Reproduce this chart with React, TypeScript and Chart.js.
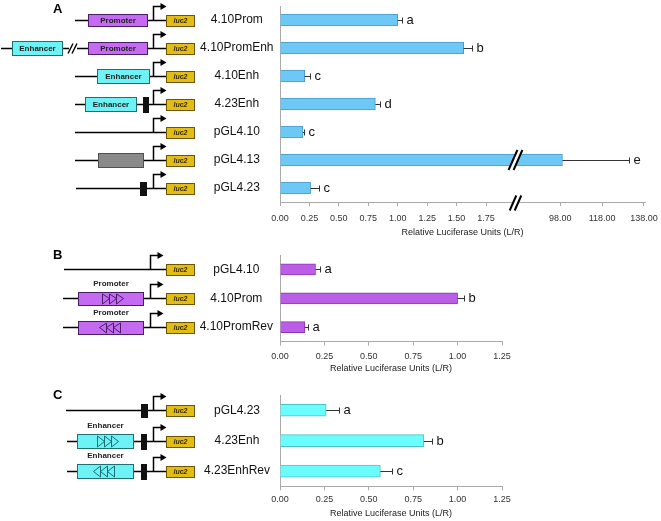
import React, { useEffect, useRef } from 'react';
import { Chart, registerables } from 'chart.js';

Chart.register(...registerables);

const FONT = "'Liberation Sans', Arial, Helvetica, sans-serif";

// ---------- Panel A data ----------
const categoriesA = ['4.10Prom', '4.10PromEnh', '4.10Enh', '4.23Enh', 'pGL4.10', 'pGL4.13', 'pGL4.23'];
const valuesA = [1.0, 1.56, 0.21, 0.81, 0.195, 99, 0.26];
const errorsA = [0.035, 0.07, 0.045, 0.04, 0.012, 32, 0.07];
const lettersA = ['a', 'b', 'c', 'd', 'c', 'e', 'c'];
const tickValuesA = [0, 0.25, 0.5, 0.75, 1, 1.25, 1.5, 1.75, 98, 118, 138];
const tickLabelsA = ['0.00', '0.25', '0.50', '0.75', '1.00', '1.25', '1.50', '1.75', '98.00', '118.00', '138.00'];

// ---------- Panel B data ----------
const categoriesB = ['pGL4.10', '4.10Prom', '4.10PromRev'];
const valuesB = [0.2, 1.0, 0.14];
const errorsB = [0.025, 0.035, 0.02];
const lettersB = ['a', 'b', 'a'];

// ---------- Panel C data ----------
const categoriesC = ['pGL4.23', '4.23Enh', '4.23EnhRev'];
const valuesC = [0.26, 0.81, 0.565];
const errorsC = [0.07, 0.045, 0.065];
const lettersC = ['a', 'b', 'c'];

const tickValuesBC = [0, 0.25, 0.5, 0.75, 1, 1.25];
const tickLabelsBC = ['0.00', '0.25', '0.50', '0.75', '1.00', '1.25'];
const axisTitle = 'Relative Luciferase Units (L/R)';

// ---------- broken axis (panel A) ----------
const BREAK_AT = 2;
const UPPER_FROM = 98;
const UPPER_POS = 2.381;
const UPPER_UNIT = 0.355 / 20;
const toAxisA = (v: number) => (v <= BREAK_AT ? v : UPPER_POS + (v - UPPER_FROM) * UPPER_UNIT);
const identity = (v: number) => v;

// ---------- schematic diagrams ----------
type Box = {
  kind: 'promoter' | 'enhancer' | 'gray' | 'block';
  x1: number; x2: number; h: number;
  text?: string; above?: string; tri?: 'r' | 'l'; triX?: number;
};
type Row = { start: number; boxes: Box[]; slash?: number; arrowX: number };

const COL: Record<string, [string, string]> = {
  promoter: ['#C46BF2', '#4A1E66'],
  enhancer: ['#6DF2F5', '#1E6E72'],
  gray: ['#8A8A8A', '#505050'],
  block: ['#111111', '#111111'],
  luc: ['#E2BD13', '#6E5400'],
};

const diagramA: Row[] = [
  { start: 75, boxes: [{ kind: 'promoter', x1: 88, x2: 148, h: 13, text: 'Promoter' }], arrowX: 153 },
  { start: 1, slash: 68, boxes: [{ kind: 'enhancer', x1: 12, x2: 63, h: 15, text: 'Enhancer' }, { kind: 'promoter', x1: 88, x2: 148, h: 13, text: 'Promoter' }], arrowX: 153 },
  { start: 75, boxes: [{ kind: 'enhancer', x1: 97, x2: 150, h: 15, text: 'Enhancer' }], arrowX: 153 },
  { start: 75, boxes: [{ kind: 'enhancer', x1: 85, x2: 137, h: 15, text: 'Enhancer' }, { kind: 'block', x1: 143, x2: 149, h: 16 }], arrowX: 153 },
  { start: 75, boxes: [], arrowX: 153 },
  { start: 75, boxes: [{ kind: 'gray', x1: 98, x2: 144, h: 15 }], arrowX: 153 },
  { start: 76, boxes: [{ kind: 'block', x1: 140, x2: 147, h: 14 }], arrowX: 153 },
];
const diagramB: Row[] = [
  { start: 64, boxes: [], arrowX: 150 },
  { start: 63, boxes: [{ kind: 'promoter', x1: 78, x2: 144, h: 14, above: 'Promoter', tri: 'r', triX: 102 }], arrowX: 150 },
  { start: 63, boxes: [{ kind: 'promoter', x1: 78, x2: 144, h: 14, above: 'Promoter', tri: 'l', triX: 99 }], arrowX: 150 },
];
const diagramC: Row[] = [
  { start: 66, boxes: [{ kind: 'block', x1: 141, x2: 148, h: 14 }], arrowX: 153 },
  { start: 67, boxes: [{ kind: 'enhancer', x1: 77, x2: 134, h: 15, above: 'Enhancer', tri: 'r', triX: 97 }, { kind: 'block', x1: 141, x2: 147, h: 16 }], arrowX: 153 },
  { start: 67, boxes: [{ kind: 'enhancer', x1: 77, x2: 134, h: 15, above: 'Enhancer', tri: 'l', triX: 93 }, { kind: 'block', x1: 141, x2: 147, h: 16 }], arrowX: 153 },
];

const LUC_X1 = 166;
const LUC_X2 = 195;

function drawRow(ctx: CanvasRenderingContext2D, yc: number, row: Row) {
  const y = Math.round(yc) + 0.5;
  ctx.save();
  ctx.strokeStyle = '#000';
  ctx.lineWidth = 1.6;
  ctx.beginPath();
  if (row.slash !== undefined) {
    ctx.moveTo(row.start, y); ctx.lineTo(row.slash + 1, y);
    ctx.moveTo(row.slash + 9, y); ctx.lineTo(LUC_X1, y);
  } else {
    ctx.moveTo(row.start, y); ctx.lineTo(LUC_X1, y);
  }
  ctx.stroke();
  if (row.slash !== undefined) {
    const s = row.slash;
    ctx.lineWidth = 1.4;
    ctx.beginPath();
    ctx.moveTo(s, y + 5); ctx.lineTo(s + 5, y - 5);
    ctx.moveTo(s + 4, y + 5); ctx.lineTo(s + 9, y - 5);
    ctx.stroke();
  }
  for (const b of row.boxes) {
    const [fill, stroke] = COL[b.kind];
    const top = Math.round(y - b.h / 2);
    ctx.fillStyle = fill;
    ctx.fillRect(b.x1, top, b.x2 - b.x1, b.h);
    ctx.strokeStyle = stroke;
    ctx.lineWidth = 1;
    ctx.strokeRect(b.x1 + 0.5, top + 0.5, b.x2 - b.x1 - 1, b.h - 1);
    if (b.text) {
      ctx.fillStyle = '#222';
      ctx.font = `bold 8px ${FONT}`;
      ctx.textAlign = 'center';
      ctx.textBaseline = 'middle';
      ctx.fillText(b.text, (b.x1 + b.x2) / 2, y + 0.5);
    }
    if (b.above) {
      ctx.fillStyle = '#222';
      ctx.font = `bold 8px ${FONT}`;
      ctx.textAlign = 'center';
      ctx.textBaseline = 'middle';
      ctx.fillText(b.above, (b.x1 + b.x2) / 2, top - 8);
    }
    if (b.tri && b.triX !== undefined) {
      ctx.strokeStyle = stroke;
      ctx.lineWidth = 1;
      const t = top + 2;
      const bt = top + b.h - 2;
      for (let i = 0; i < 3; i++) {
        ctx.beginPath();
        if (b.tri === 'r') {
          const lx = b.triX + i * 7 + 0.5;
          ctx.moveTo(lx, t); ctx.lineTo(lx + 7, y); ctx.lineTo(lx, bt); ctx.closePath();
        } else {
          const rx = b.triX + 21 - i * 7 + 0.5;
          ctx.moveTo(rx, t); ctx.lineTo(rx - 7, y); ctx.lineTo(rx, bt); ctx.closePath();
        }
        ctx.stroke();
      }
    }
  }
  // promoter arrow
  const ax = row.arrowX + 0.5;
  ctx.strokeStyle = '#000';
  ctx.lineWidth = 1.5;
  ctx.beginPath();
  ctx.moveTo(ax, y); ctx.lineTo(ax, y - 14); ctx.lineTo(ax + 8, y - 14);
  ctx.stroke();
  ctx.fillStyle = '#000';
  ctx.beginPath();
  ctx.moveTo(ax + 7, y - 17.5); ctx.lineTo(ax + 13, y - 14); ctx.lineTo(ax + 7, y - 10.5); ctx.closePath();
  ctx.fill();
  // luc2 box
  const lt = Math.round(y - 6);
  ctx.fillStyle = COL.luc[0];
  ctx.fillRect(LUC_X1, lt, LUC_X2 - LUC_X1, 12);
  ctx.strokeStyle = COL.luc[1];
  ctx.lineWidth = 1;
  ctx.strokeRect(LUC_X1 + 0.5, lt + 0.5, LUC_X2 - LUC_X1 - 1, 11);
  ctx.fillStyle = '#3A2A00';
  ctx.font = `italic bold 7px ${FONT}`;
  ctx.textAlign = 'center';
  ctx.textBaseline = 'middle';
  ctx.fillText('luc2', (LUC_X1 + LUC_X2) / 2, y + 0.5);
  ctx.restore();
}

function drawBreak(ctx: CanvasRenderingContext2D, cx: number, cy: number, h: number) {
  const dx = h * 0.22;
  ctx.save();
  ctx.fillStyle = '#fff';
  ctx.beginPath();
  ctx.moveTo(cx - 3 - dx, cy + h / 2);
  ctx.lineTo(cx - 3 + dx, cy - h / 2);
  ctx.lineTo(cx + 3 + dx, cy - h / 2);
  ctx.lineTo(cx + 3 - dx, cy + h / 2);
  ctx.closePath();
  ctx.fill();
  ctx.strokeStyle = '#000';
  ctx.lineWidth = 2;
  ctx.beginPath();
  ctx.moveTo(cx - 2.5 - dx, cy + h / 2); ctx.lineTo(cx - 2.5 + dx, cy - h / 2);
  ctx.moveTo(cx + 2.5 - dx, cy + h / 2); ctx.lineTo(cx + 2.5 + dx, cy - h / 2);
  ctx.stroke();
  ctx.restore();
}

type PanelSpec = {
  categories: string[];
  values: number[];
  errors: number[];
  letters: string[];
  tickValues: number[];
  tickLabels: string[];
  map: (v: number) => number;
  max: number;
  fill: string;
  stroke: string;
  thickness: number;
  padTop: number;
  padRight: number;
  tickPad: number;
  titlePadTop: number;
  xHeight: number;
  yPad: number;
  diagram: Row[];
  letter: string;
  letterY: number;
  breakIndex?: number;
};

function buildConfig(p: PanelSpec): any {
  const errorPlugin = {
    id: 'errbars',
    afterDatasetsDraw(chart: any) {
      const ctx = chart.ctx as CanvasRenderingContext2D;
      const meta = chart.getDatasetMeta(0);
      const xs = chart.scales.x;
      ctx.save();
      ctx.strokeStyle = '#333';
      ctx.lineWidth = 1;
      ctx.font = `13px ${FONT}`;
      ctx.fillStyle = '#111';
      ctx.textBaseline = 'middle';
      ctx.textAlign = 'left';
      meta.data.forEach((el: any, i: number) => {
        const y = Math.round(el.y) + 0.5;
        const x0 = el.x;
        const x1 = Math.round(xs.getPixelForValue(p.map(p.values[i] + p.errors[i]))) + 0.5;
        ctx.beginPath();
        ctx.moveTo(x0, y); ctx.lineTo(x1, y);
        ctx.moveTo(x1, y - 3); ctx.lineTo(x1, y + 3);
        ctx.stroke();
        ctx.fillText(p.letters[i], x1 + 4, y);
      });
      if (p.breakIndex !== undefined) {
        const el = meta.data[p.breakIndex];
        const bx = xs.getPixelForValue(BREAK_AT);
        drawBreak(ctx, bx, el.y, 20);
        drawBreak(ctx, bx, chart.chartArea.bottom + 1, 15);
      }
      ctx.restore();
    },
  };
  const diagramPlugin = {
    id: 'diagrams',
    afterDraw(chart: any) {
      const ctx = chart.ctx as CanvasRenderingContext2D;
      const ys = chart.scales.y;
      p.diagram.forEach((row, i) => drawRow(ctx, ys.getPixelForValue(i), row));
      ctx.save();
      ctx.fillStyle = '#000';
      ctx.font = `bold 13px ${FONT}`;
      ctx.textAlign = 'left';
      ctx.textBaseline = 'middle';
      ctx.fillText(p.letter, 53, p.letterY);
      ctx.restore();
    },
  };
  return {
    type: 'bar',
    data: {
      labels: p.categories,
      datasets: [
        {
          data: p.values.map(p.map),
          backgroundColor: p.fill,
          borderColor: p.stroke,
          borderWidth: 1,
          barThickness: p.thickness,
        },
      ],
    },
    options: {
      indexAxis: 'y',
      responsive: false,
      animation: false,
      devicePixelRatio: 1,
      layout: { padding: { top: p.padTop, right: p.padRight, left: 0, bottom: 0 } },
      plugins: { legend: { display: false }, tooltip: { enabled: false } },
      scales: {
        x: {
          type: 'linear',
          min: 0,
          max: p.max,
          afterBuildTicks: (axis: any) => {
            axis.ticks = p.tickValues.map((v) => ({ value: p.map(v) }));
          },
          afterFit: (s: any) => {
            s.height = p.xHeight;
            s.paddingLeft = 0;
            s.paddingRight = 0;
          },
          ticks: {
            callback: (_v: any, i: number) => p.tickLabels[i],
            font: { family: FONT, size: 9 },
            color: '#333',
            padding: p.tickPad,
            autoSkip: false,
            maxRotation: 0,
          },
          grid: { drawOnChartArea: false, drawTicks: true, tickLength: 4, color: '#aaa' },
          border: { color: '#aaa', width: 1 },
          title: {
            display: true,
            text: axisTitle,
            font: { family: FONT, size: 9 },
            color: '#222',
            padding: { top: p.titlePadTop, bottom: 2 },
          },
        },
        y: {
          type: 'category',
          ticks: {
            font: { family: FONT, size: 12 },
            color: '#111',
            crossAlign: 'center',
            padding: p.yPad,
            autoSkip: false,
          },
          grid: { display: false, drawTicks: false },
          border: { color: '#aaa', width: 1 },
          afterFit: (s: any) => {
            s.width = 280;
            s.paddingTop = 0;
            s.paddingBottom = 0;
          },
        },
      },
    },
    plugins: [errorPlugin, diagramPlugin],
  };
}

const panelA: PanelSpec = {
  categories: categoriesA, values: valuesA, errors: errorsA, letters: lettersA,
  tickValues: tickValuesA, tickLabels: tickLabelsA, map: toAxisA, max: 3.1,
  fill: '#6DC8F6', stroke: '#4A9BCB', thickness: 12,
  padTop: 6, padRight: 16, tickPad: 7, titlePadTop: 3, xHeight: 38, yPad: 6.5,
  diagram: diagramA, letter: 'A', letterY: 9, breakIndex: 5,
};
const panelB: PanelSpec = {
  categories: categoriesB, values: valuesB, errors: errorsB, letters: lettersB,
  tickValues: tickValuesBC, tickLabels: tickLabelsBC, map: identity, max: 1.25,
  fill: '#BC5DE8', stroke: '#8A3AB5', thickness: 11,
  padTop: 15, padRight: 159, tickPad: 5.5, titlePadTop: 1, xHeight: 34.4, yPad: 7,
  diagram: diagramB, letter: 'B', letterY: 15,
};
const panelC: PanelSpec = {
  categories: categoriesC, values: valuesC, errors: errorsC, letters: lettersC,
  tickValues: tickValuesBC, tickLabels: tickLabelsBC, map: identity, max: 1.25,
  fill: '#6BFDFD', stroke: '#4CC3C6', thickness: 12,
  padTop: 15, padRight: 159, tickPad: 4, titlePadTop: 3, xHeight: 34.7, yPad: 10,
  diagram: diagramC, letter: 'C', letterY: 15,
};

function ChartCanvas({ top, height, spec }: { top: number; height: number; spec: PanelSpec }) {
  const ref = useRef<HTMLCanvasElement>(null);
  useEffect(() => {
    const chart = new Chart(ref.current as HTMLCanvasElement, buildConfig(spec));
    return () => chart.destroy();
  }, []);
  return (
    <canvas
      ref={ref}
      width={661}
      height={height}
      style={{ position: 'absolute', left: 0, top, width: 661, height, display: 'block' }}
    />
  );
}

export default function App() {
  return (
    <div style={{ position: 'absolute', left: 0, top: 0, width: 661, height: 521, background: '#fff', overflow: 'hidden' }}>
      <ChartCanvas top={0} height={240} spec={panelA} />
      <ChartCanvas top={240} height={136} spec={panelB} />
      <ChartCanvas top={380} height={141} spec={panelC} />
    </div>
  );
}
